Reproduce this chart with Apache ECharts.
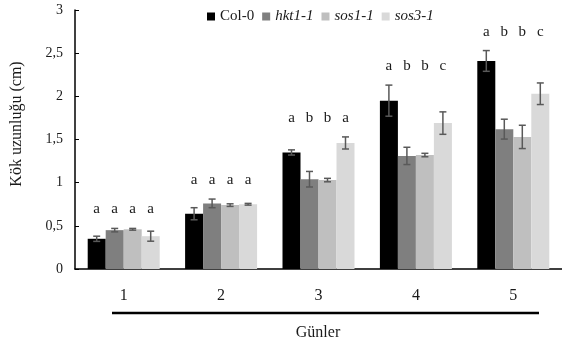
<!DOCTYPE html>
<html>
<head>
<meta charset="utf-8">
<script src="https://cdn.jsdelivr.net/npm/echarts@6/dist/echarts.min.js"></script>
<style>
  html, body { margin: 0; padding: 0; background: #fff; }
  #chart { width: 562px; height: 349px; }
</style>
</head>
<body>
<div id="chart"></div>
<script>
// days
const days = ["1", "2", "3", "4", "5"];
const names = ["Col-0", "hkt1-1", "sos1-1", "sos3-1"];
const colors = ["#000000", "#7f7f7f", "#bfbfbf", "#d9d9d9"];

// root length (cm) and error
const col0 = [0.35, 0.64, 1.35, 1.95, 2.41];
const hkt1 = [0.45, 0.76, 1.04, 1.31, 1.62];
const sos1 = [0.46, 0.74, 1.03, 1.32, 1.53];
const sos3 = [0.38, 0.75, 1.46, 1.69, 2.03];

const col0Err = [0.03, 0.07, 0.03, 0.18, 0.12];
const hkt1Err = [0.02, 0.05, 0.09, 0.10, 0.115];
const sos1Err = [0.01, 0.015, 0.02, 0.02, 0.135];
const sos3Err = [0.058, 0.01, 0.07, 0.13, 0.125];

// significance letters per day
const col0Letters = ["a", "a", "a", "a", "a"];
const hkt1Letters = ["a", "a", "b", "b", "b"];
const sos1Letters = ["a", "a", "b", "b", "b"];
const sos3Letters = ["a", "a", "a", "c", "c"];

const yTicks = [0, 0.5, 1, 1.5, 2, 2.5, 3];

const values = [col0, hkt1, sos1, sos3];
const errors = [col0Err, hkt1Err, sos1Err, sos3Err];
const letters = [col0Letters, hkt1Letters, sos1Letters, sos3Letters];

const barW = 18;
const font = "Liberation Serif";

const errData = [];
values.forEach((vals, s) => {
  vals.forEach((v, i) => errData.push([i, s, v, errors[s][i]]));
});

// letters sit above the highest error bar of each day
const letterData = [];
days.forEach((d, i) => {
  let top = 0;
  values.forEach((vals, s) => { top = Math.max(top, vals[i] + errors[s][i]); });
  names.forEach((n, s) => letterData.push([i, s, top, letters[s][i]]));
});

const chart = echarts.init(document.getElementById("chart"));

const barSeries = names.map((n, s) => ({
  name: n,
  type: "bar",
  barWidth: barW,
  barGap: "0%",
  itemStyle: { color: colors[s] },
  data: values[s],
}));

const option = {
  animation: false,
  legend: {
    left: 207,
    top: 9,
    padding: 0,
    itemWidth: 8,
    itemHeight: 8,
    itemGap: 8,
    icon: "rect",
    textStyle: { fontFamily: font, fontSize: 15, color: "#1a1a1a" },
    data: [
      { name: "Col-0" },
      { name: "hkt1-1", textStyle: { fontStyle: "italic" } },
      { name: "sos1-1", textStyle: { fontStyle: "italic" } },
      { name: "sos3-1", textStyle: { fontStyle: "italic" } },
    ],
  },
  grid: { left: 75, top: 10, width: 490, height: 259 },
  xAxis: {
    type: "category",
    data: days,
    axisTick: { show: false },
    axisLine: { lineStyle: { color: "#000", width: 1.5 } },
    axisLabel: { fontFamily: font, fontSize: 16, color: "#1a1a1a", margin: 19 },
  },
  yAxis: {
    type: "value",
    min: 0,
    max: 3,
    interval: 0.5,
    axisLine: { show: true, lineStyle: { color: "#000", width: 1.5 } },
    axisTick: { show: true, inside: true, length: 4, lineStyle: { color: "#000" } },
    splitLine: { show: false },
    axisLabel: {
      fontFamily: font,
      fontSize: 14,
      color: "#1a1a1a",
      margin: 12,
      formatter: (v) => (yTicks.includes(v) ? String(v).replace(".", ",") : ""),
    },
  },
  graphic: [
    {
      type: "text",
      x: 17,
      y: 124,
      rotation: Math.PI / 2,
      style: {
        text: "Kök uzunluğu (cm)",
        fontFamily: font,
        fontSize: 16,
        fill: "#1a1a1a",
        align: "center",
        verticalAlign: "middle",
      },
    },
    {
      type: "line",
      shape: { x1: 112, y1: 313, x2: 539, y2: 313 },
      style: { stroke: "#000", lineWidth: 2.5 },
    },
    {
      type: "text",
      x: 318,
      y: 333,
      style: {
        text: "Günler",
        fontFamily: font,
        fontSize: 16,
        fill: "#1a1a1a",
        align: "center",
        verticalAlign: "middle",
      },
    },
  ],
  series: [
    ...barSeries,
    {
      type: "custom",
      name: "err",
      z: 5,
      silent: true,
      encode: { x: 0, y: 2 },
      data: errData,
      renderItem: (params, api) => {
        const c = api.value(0), s = api.value(1), v = api.value(2), e = api.value(3);
        const off = (s - 1.5) * barW;
        const hi = api.coord([c, v + e]);
        const lo = api.coord([c, v - e]);
        const x = hi[0] + off;
        const st = { stroke: "#595959", lineWidth: 1.5 };
        return {
          type: "group",
          children: [
            { type: "line", shape: { x1: x, y1: hi[1], x2: x, y2: lo[1] }, style: st },
            { type: "line", shape: { x1: x - 3.5, y1: hi[1], x2: x + 3.5, y2: hi[1] }, style: st },
            { type: "line", shape: { x1: x - 3.5, y1: lo[1], x2: x + 3.5, y2: lo[1] }, style: st },
          ],
        };
      },
    },
    {
      type: "custom",
      name: "letters",
      z: 5,
      silent: true,
      encode: { x: 0, y: 2 },
      data: letterData.map((d) => [d[0], d[1], d[2]]),
      renderItem: (params, api) => {
        const d = letterData[params.dataIndex];
        const p = api.coord([d[0], d[2]]);
        return {
          type: "text",
          x: p[0] + (d[1] - 1.5) * barW,
          y: p[1] - 19,
          style: {
            text: d[3],
            fontFamily: font,
            fontSize: 15,
            fill: "#1a1a1a",
            align: "center",
            verticalAlign: "middle",
          },
        };
      },
    },
  ],
};

chart.setOption(option);
</script>
</body>
</html>
